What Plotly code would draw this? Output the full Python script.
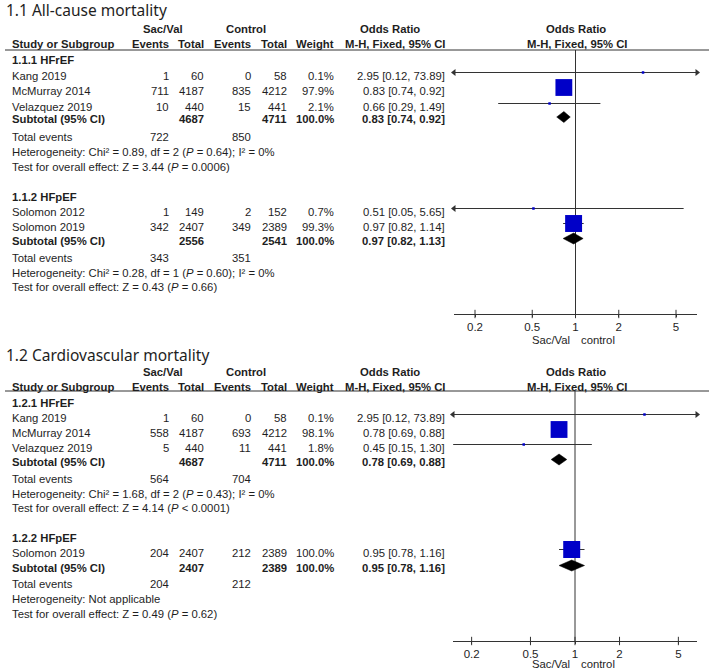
import math
import plotly.graph_objects as go

W, H = 709, 672

# ---------------- data ----------------
tick_vals = [0.2, 0.5, 1, 2, 5]
tick_labels = ["0.2", "0.5", "1", "2", "5"]
favours_labels = ["Sac/Val", "control"]

# 1.1 All-cause mortality -- 1.1.1 HFrEF
ac1_study = ["Kang 2019", "McMurray 2014", "Velazquez 2019"]
ac1_sv_events = [1, 711, 10]
ac1_sv_total = [60, 4187, 440]
ac1_ct_events = [0, 835, 15]
ac1_ct_total = [58, 4212, 441]
ac1_weight = [0.1, 97.9, 2.1]
ac1_or = [2.95, 0.83, 0.66]
ac1_lo = [0.12, 0.74, 0.29]
ac1_hi = [73.89, 0.92, 1.49]
ac1_sub_totals = [4687, 4711]
ac1_sub_or = [0.83, 0.74, 0.92]
ac1_total_events = [722, 850]
ac1_het = "Heterogeneity: Chi² = 0.89, df = 2 (<i>P</i> = 0.64); I² = 0%"
ac1_test = "Test for overall effect: Z = 3.44 (<i>P</i> = 0.0006)"

# 1.1 All-cause mortality -- 1.1.2 HFpEF
ac2_study = ["Solomon 2012", "Solomon 2019"]
ac2_sv_events = [1, 342]
ac2_sv_total = [149, 2407]
ac2_ct_events = [2, 349]
ac2_ct_total = [152, 2389]
ac2_weight = [0.7, 99.3]
ac2_or = [0.51, 0.97]
ac2_lo = [0.05, 0.82]
ac2_hi = [5.65, 1.14]
ac2_sub_totals = [2556, 2541]
ac2_sub_or = [0.97, 0.82, 1.13]
ac2_total_events = [343, 351]
ac2_het = "Heterogeneity: Chi² = 0.28, df = 1 (<i>P</i> = 0.60); I² = 0%"
ac2_test = "Test for overall effect: Z = 0.43 (<i>P</i> = 0.66)"

# 1.2 Cardiovascular mortality -- 1.2.1 HFrEF
cv1_study = ["Kang 2019", "McMurray 2014", "Velazquez 2019"]
cv1_sv_events = [1, 558, 5]
cv1_sv_total = [60, 4187, 440]
cv1_ct_events = [0, 693, 11]
cv1_ct_total = [58, 4212, 441]
cv1_weight = [0.1, 98.1, 1.8]
cv1_or = [2.95, 0.78, 0.45]
cv1_lo = [0.12, 0.69, 0.15]
cv1_hi = [73.89, 0.88, 1.30]
cv1_sub_totals = [4687, 4711]
cv1_sub_or = [0.78, 0.69, 0.88]
cv1_total_events = [564, 704]
cv1_het = "Heterogeneity: Chi² = 1.68, df = 2 (<i>P</i> = 0.43); I² = 0%"
cv1_test = "Test for overall effect: Z = 4.14 (<i>P</i> < 0.0001)"

# 1.2 Cardiovascular mortality -- 1.2.2 HFpEF
cv2_study = ["Solomon 2019"]
cv2_sv_events = [204]
cv2_sv_total = [2407]
cv2_ct_events = [212]
cv2_ct_total = [2389]
cv2_weight = [100.0]
cv2_or = [0.95]
cv2_lo = [0.78]
cv2_hi = [1.16]
cv2_sub_totals = [2407, 2389]
cv2_sub_or = [0.95, 0.78, 1.16]
cv2_total_events = [204, 212]
cv2_het = "Heterogeneity: Not applicable"
cv2_test = "Test for overall effect: Z = 0.49 (<i>P</i> = 0.62)"


def group(label, study, sve, svt, cte, ctt, w, orv, lo, hi, subt, subor, te, het, test):
    return dict(label=label, study=study, sve=sve, svt=svt, cte=cte, ctt=ctt, w=w,
                orv=orv, lo=lo, hi=hi, subt=subt, subor=subor, te=te, het=het, test=test)


sections = [
    dict(title="1.1 All-cause mortality",
         groups=[group("1.1.1 HFrEF", ac1_study, ac1_sv_events, ac1_sv_total, ac1_ct_events, ac1_ct_total,
                       ac1_weight, ac1_or, ac1_lo, ac1_hi, ac1_sub_totals, ac1_sub_or, ac1_total_events,
                       ac1_het, ac1_test),
                 group("1.1.2 HFpEF", ac2_study, ac2_sv_events, ac2_sv_total, ac2_ct_events, ac2_ct_total,
                       ac2_weight, ac2_or, ac2_lo, ac2_hi, ac2_sub_totals, ac2_sub_or, ac2_total_events,
                       ac2_het, ac2_test)],
         # layout (pixels)
         y_title=10, y_h1=29, y_h2=44, y_line=50,
         rows=[dict(label=60, rows=[76, 91, 107], sub=119.5, te=137, het=152, test=167),
               dict(label=197, rows=[212, 227], sub=241, te=258, het=273, test=287)],
         y_axis=314, y_dir=340, xdom=(454, 697), xr=0.845),
    dict(title="1.2 Cardiovascular mortality",
         groups=[group("1.2.1 HFrEF", cv1_study, cv1_sv_events, cv1_sv_total, cv1_ct_events, cv1_ct_total,
                       cv1_weight, cv1_or, cv1_lo, cv1_hi, cv1_sub_totals, cv1_sub_or, cv1_total_events,
                       cv1_het, cv1_test),
                 group("1.2.2 HFpEF", cv2_study, cv2_sv_events, cv2_sv_total, cv2_ct_events, cv2_ct_total,
                       cv2_weight, cv2_or, cv2_lo, cv2_hi, cv2_sub_totals, cv2_sub_or, cv2_total_events,
                       cv2_het, cv2_test)],
         y_title=355, y_h1=372, y_h2=387, y_line=391,
         rows=[dict(label=403, rows=[418, 433, 448], sub=462, te=479, het=494, test=508),
               dict(label=538, rows=[553], sub=568, te=584, het=599, test=614)],
         y_axis=641, y_dir=664, xdom=(453, 697), xr=0.825),
]

# ---------------- styling ----------------
BODY = "Liberation Sans, Arial, sans-serif"
TITLE = "Noto Sans, sans-serif"
TXT = "#1e1e1e"
LINE = "#333333"
BLUE = "rgb(0,0,200)"
FS = 11.3

# column anchors (pixels)
X_NAME = 11
X_SVE, X_SVT, X_CTE, X_CTT, X_W, X_OR = 170, 205, 252, 288, 335, 446

annotations = []
shapes = []
traces = []
layout_axes = {}


def txt(x, y, s, anchor="left", size=FS, bold=False, family=BODY):
    if bold:
        s = "<b>" + s + "</b>"
    annotations.append(dict(x=x / W, y=1 - y / H, xref="paper", yref="paper", text=s,
                            showarrow=False, xanchor=anchor, yanchor="middle",
                            font=dict(family=family, size=size, color=TXT), borderpad=0))


for si, sec in enumerate(sections):
    ax = si + 2
    xname, yname = f"x{ax}", f"y{ax}"
    xr = sec["xr"]
    xmin, xmax = 10 ** -xr, 10 ** xr

    # title and headers
    txt(5, sec["y_title"], sec["title"], size=15.5, family=TITLE)
    txt(163, sec["y_h1"], "Sac/Val", "center", bold=True)
    txt(246, sec["y_h1"], "Control", "center", bold=True)
    txt(390, sec["y_h1"], "Odds Ratio", "center", bold=True)
    txt(576, sec["y_h1"], "Odds Ratio", "center", bold=True)
    txt(X_NAME, sec["y_h2"], "Study or Subgroup", bold=True)
    txt(X_SVE, sec["y_h2"], "Events", "right", bold=True)
    txt(X_SVT, sec["y_h2"], "Total", "right", bold=True)
    txt(X_CTE, sec["y_h2"], "Events", "right", bold=True)
    txt(X_CTT, sec["y_h2"], "Total", "right", bold=True)
    txt(X_W, sec["y_h2"], "Weight", "right", bold=True)
    txt(X_OR, sec["y_h2"], "M-H, Fixed, 95% CI", "right", bold=True)
    txt(577, sec["y_h2"], "M-H, Fixed, 95% CI", "center", bold=True)
    shapes.append(dict(type="line", xref="paper", yref="paper", x0=5 / W, x1=1,
                       y0=1 - sec["y_line"] / H, y1=1 - sec["y_line"] / H,
                       line=dict(color=LINE, width=1)))

    # forest axes
    y0p = 1 - sec["y_axis"] / H
    y1p = 1 - sec["y_line"] / H
    layout_axes[f"xaxis{ax}"] = dict(
        type="log", range=[-xr, xr], domain=[sec["xdom"][0] / W, sec["xdom"][1] / W],
        anchor=yname, showline=True, linecolor=LINE, linewidth=1, ticks="outside",
        ticklen=2, tickcolor=LINE, tickvals=tick_vals, ticktext=tick_labels,
        tickfont=dict(family=BODY, size=11.5, color=TXT), showgrid=False, zeroline=False,
        fixedrange=True)
    layout_axes[f"yaxis{ax}"] = dict(
        range=[sec["y_axis"], sec["y_line"]], domain=[y0p, y1p], anchor=xname,
        visible=False, fixedrange=True)

    # tick marks crossing the axis line
    traces.append(go.Scatter(x=tick_vals, y=[sec["y_axis"]] * len(tick_vals), mode="markers",
                             marker=dict(symbol="line-ns", size=6,
                                         line=dict(color=LINE, width=1)),
                             xaxis=xname, yaxis=yname, cliponaxis=False, hoverinfo="skip"))

    # null line
    traces.append(go.Scatter(x=[1, 1], y=[sec["y_line"], sec["y_axis"]], mode="lines",
                             line=dict(color=LINE, width=1), xaxis=xname, yaxis=yname,
                             hoverinfo="skip"))

    # favours labels
    txt(571, sec["y_dir"], favours_labels[0], "right")
    txt(580, sec["y_dir"], favours_labels[1], "left")

    for g, pos in zip(sec["groups"], sec["rows"]):
        txt(X_NAME, pos["label"], g["label"], bold=True)
        for i, name in enumerate(g["study"]):
            yr = pos["rows"][i]
            txt(X_NAME, yr, name)
            txt(X_SVE, yr, str(g["sve"][i]), "right")
            txt(X_SVT, yr, str(g["svt"][i]), "right")
            txt(X_CTE, yr, str(g["cte"][i]), "right")
            txt(X_CTT, yr, str(g["ctt"][i]), "right")
            txt(X_W, yr, f"{g['w'][i]:.1f}%", "right")
            txt(X_OR, yr, f"{g['orv'][i]:.2f} [{g['lo'][i]:.2f}, {g['hi'][i]:.2f}]", "right")

            ym = yr - 3.5
            lo, hi = g["lo"][i], g["hi"][i]
            traces.append(go.Scatter(x=[max(lo, xmin), min(hi, xmax)], y=[ym, ym], mode="lines",
                                     line=dict(color=LINE, width=1), xaxis=xname, yaxis=yname,
                                     hoverinfo="skip"))
            if lo < xmin:
                traces.append(go.Scatter(x=[xmin], y=[ym], mode="markers",
                                         marker=dict(symbol="triangle-left", size=6, color=LINE),
                                         xaxis=xname, yaxis=yname, cliponaxis=False, hoverinfo="skip"))
            if hi > xmax:
                traces.append(go.Scatter(x=[xmax], y=[ym], mode="markers",
                                         marker=dict(symbol="triangle-right", size=6, color=LINE),
                                         xaxis=xname, yaxis=yname, cliponaxis=False, hoverinfo="skip"))
            size = max(2.5, 17 * math.sqrt(g["w"][i] / 100))
            traces.append(go.Scatter(x=[g["orv"][i]], y=[ym], mode="markers",
                                     marker=dict(symbol="square", size=size, color=BLUE,
                                                 line=dict(width=0)),
                                     xaxis=xname, yaxis=yname, hoverinfo="skip"))

        # subtotal
        ys = pos["sub"]
        txt(X_NAME, ys, "Subtotal (95% CI)", bold=True)
        txt(X_SVT, ys, str(g["subt"][0]), "right", bold=True)
        txt(X_CTT, ys, str(g["subt"][1]), "right", bold=True)
        txt(X_W, ys, "100.0%", "right", bold=True)
        e, l, h = g["subor"]
        txt(X_OR, ys, f"{e:.2f} [{l:.2f}, {h:.2f}]", "right", bold=True)
        yd = ys - 2.5
        traces.append(go.Scatter(x=[l, e, h, e, l], y=[yd, yd - 5.5, yd, yd + 5.5, yd],
                                 mode="lines", fill="toself", fillcolor="black",
                                 line=dict(color="black", width=0.5), xaxis=xname, yaxis=yname,
                                 hoverinfo="skip"))

        txt(X_NAME, pos["te"], "Total events")
        txt(X_SVE, pos["te"], str(g["te"][0]), "right")
        txt(X_CTE, pos["te"], str(g["te"][1]), "right")
        txt(X_NAME, pos["het"], g["het"])
        txt(X_NAME, pos["test"], g["test"])

fig = go.Figure(data=traces)
fig.update_layout(
    width=W, height=H, margin=dict(l=0, r=0, t=0, b=0),
    paper_bgcolor="white", plot_bgcolor="rgba(0,0,0,0)",
    showlegend=False, annotations=annotations, shapes=shapes,
    xaxis=dict(visible=False), yaxis=dict(visible=False),
    **layout_axes,
)
fig.write_html("out.html", config={"displayModeBar": False},
               post_script="document.body.style.margin='0';")
